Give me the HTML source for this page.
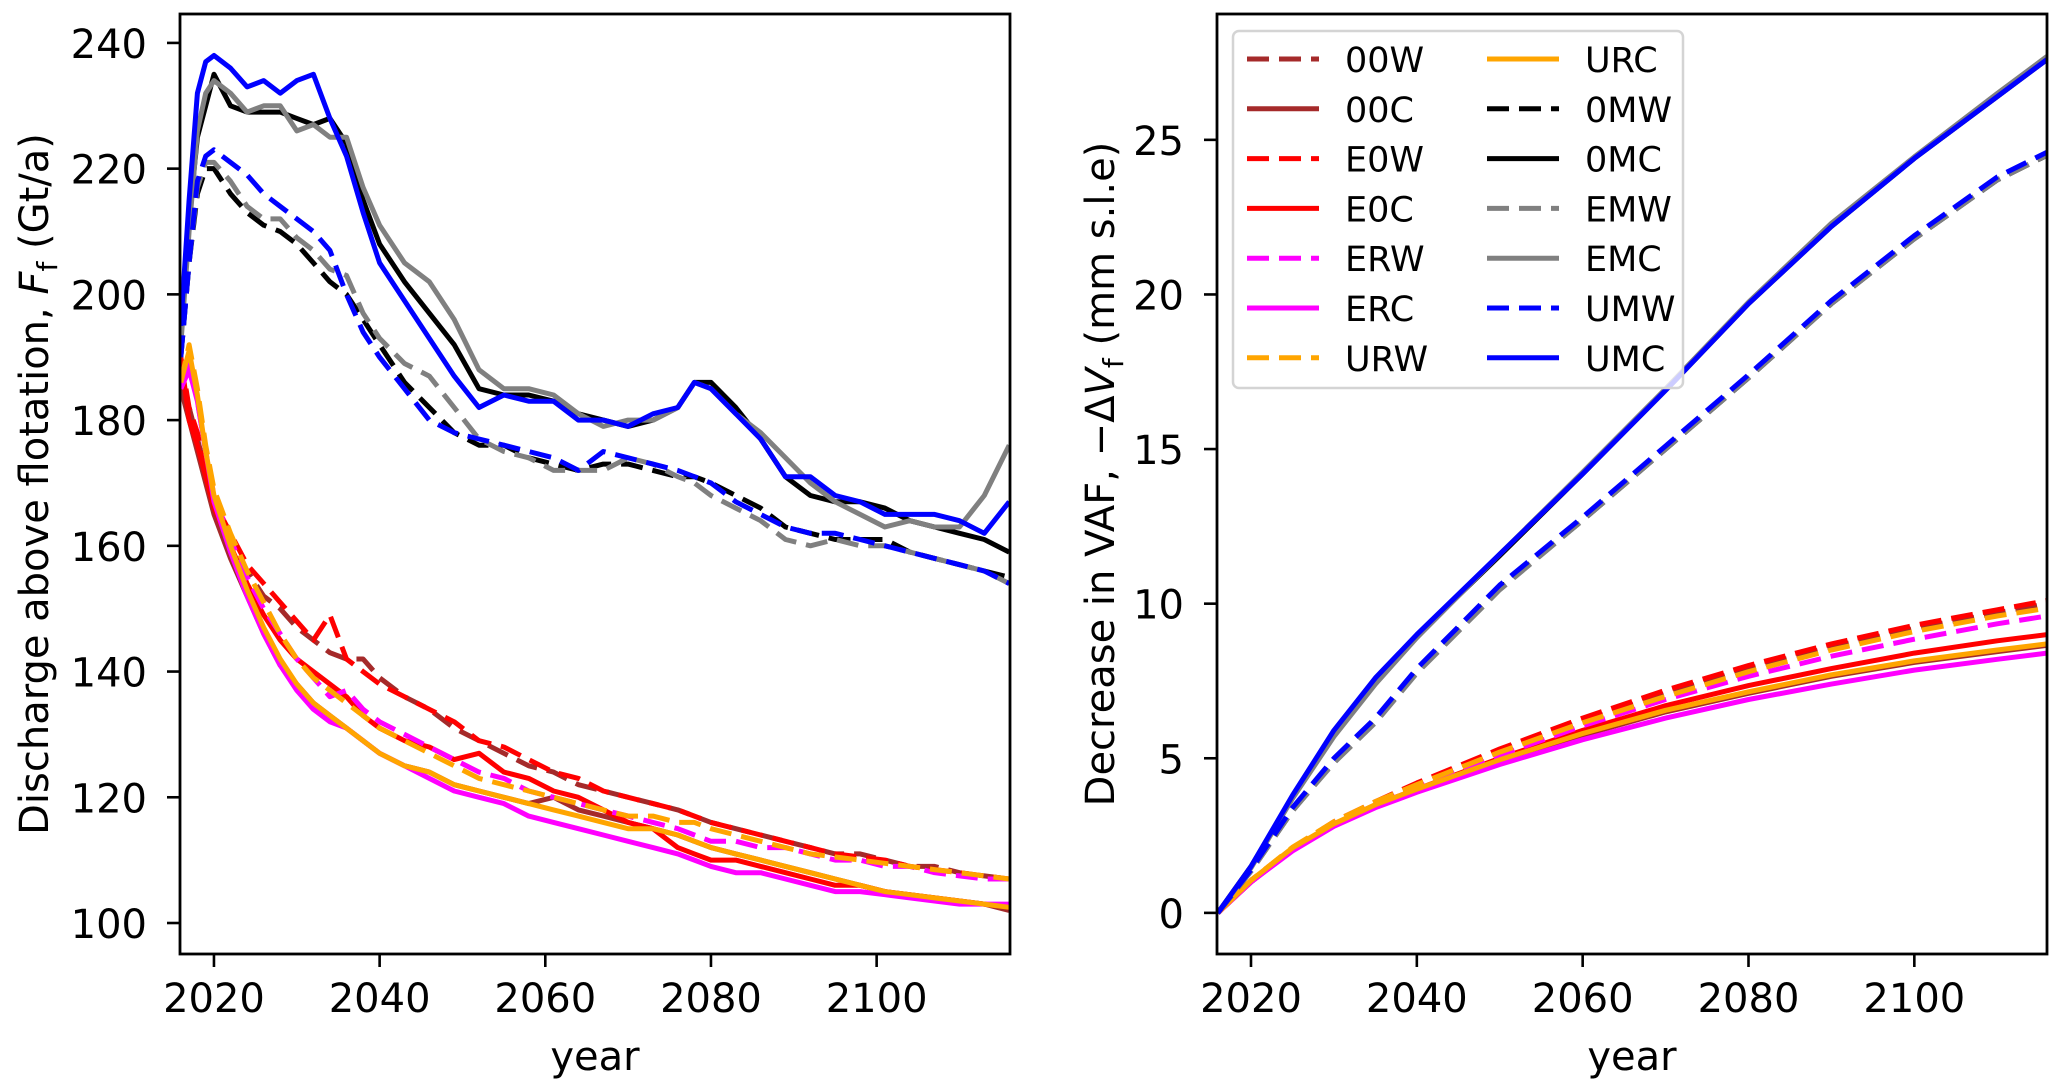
<!DOCTYPE html>
<html><head><meta charset="utf-8"><style>
html,body{margin:0;padding:0;background:#fff;}
svg{display:block;font-family:"DejaVu Sans","Liberation Sans",sans-serif;}
</style></head><body>
<svg id="fig" width="2067" height="1088" viewBox="0 0 2067 1088"></svg>
<script>
// ---------- data ----------
const leftYears=[2016,2017,2018,2019,2020,2022,2024,2026,2028,2030,2032,2034,2036,2038,2040,2043,2046,2049,2052,2055,2058,2061,2064,2067,2070,2073,2076,2078,2080,2083,2086,2089,2092,2095,2098,2101,2104,2107,2110,2113,2116];
const dis00W=[187,182,177,172,167,161,156,152,150,147,145,143,142,142,139,136,134,131,129,127,125,124,122,121,120,119,118,117,116,115,114,113,112,111,111,110,109,109,108,107.5,107];
const dis00C=[185,180,175,170,165,158,152,146,141,138,135,133,131,129,127,125,124,122,121,120,119,120,118,117,116,115,114,113,112,111,110,109,108,107,106,105,104.5,104,103.5,103,102];
const disE0W=[190,182,178,172,167,162,157,154,151,148,145,149,142,140,138,136,134,132,129,128,126,124,123,121,120,119,118,117,116,115,114,113,112,111,110.5,110,109,108.5,108,107.5,107];
const disE0C=[190,180,176,171,166,160,154,149,145,142,140,138,136,133,131,129,128,126,127,124,123,121,120,118,116,115,112,111,110,110,109,108,107,106,106,105,104.5,104,103.5,103,102.5];
const disERW=[186,189,183,175,168,161,155,150,146,142,139,136,137,134,132,130,128,126,124,123,121,120,119,118,117,116,115,114,113,113,112,112,111,110,110,109,109,108,107.5,107,107];
const disERC=[185,188,183,175,167,159,152,146,141,137,134,132,131,129,127,125,123,121,120,119,117,116,115,114,113,112,111,110,109,108,108,107,106,105,105,104.5,104,103.5,103,103,103];
const disURW=[186,192,185,176,169,162,156,151,146,142,139,137,135,133,131,129,127,125,123,122,121,120,119,118,117,117,116,116,115,114,113,112,111,110.5,110,109.5,109,108.5,108,107.5,107];
const disURC=[186,191,184,175,168,160,153,147,142,138,135,133,131,129,127,125,124,122,121,120,119,118,117,116,115,115,114,113,112,111,110,109,108,107,106,105,104.5,104,103.5,103,102.5];
const dis0MW=[190,205,216,220,220,216,213,211,210,208,205,202,200,196,192,186,182,178,176,176,174,173,172,173,173,172,171,171,170,168,166,163,162,161,161,161,159,158,157,156,155];
const dis0MC=[195,212,225,230,235,230,229,229,229,228,227,228,224,215,208,202,197,192,185,184,184,183,181,180,179,180,182,186,186,182,177,171,168,167,167,166,164,163,162,161,159];
const disEMW=[190,205,217,221,221,218,214,212,212,209,207,204,203,197,193,189,187,182,177,175,174,172,172,172,174,173,171,170,168,166,164,161,160,161,160,160,159,158,157,156,154];
const disEMC=[192,210,226,232,234,232,229,230,230,226,227,225,225,217,211,205,202,196,188,185,185,184,181,179,180,180,182,186,185,181,178,174,170,167,165,163,164,163,163,168,176];
const disUMW=[190,205,218,222,223,221,219,216,214,212,210,207,200,194,190,185,180,178,177,176,175,174,172,175,174,173,172,171,170,167,165,163,162,162,161,160,159,158,157,156,154];
const disUMC=[195,215,232,237,238,236,233,234,232,234,235,228,222,213,205,199,193,187,182,184,183,183,180,180,179,181,182,186,185,181,177,171,171,168,167,165,165,165,164,162,167];

const rightYears=[2016,2020,2025,2030,2035,2040,2050,2060,2070,2080,2090,2100,2110,2116];
const vaf00W=[0,1.05,2.1,2.92,3.58,4.15,5.25,6.2,7.1,7.9,8.6,9.2,9.7,10.0];
const vaf00C=[0,1.0,2.05,2.82,3.45,3.95,4.9,5.75,6.5,7.1,7.65,8.1,8.45,8.65];
const vafE0W=[0,1.05,2.1,2.95,3.6,4.2,5.3,6.3,7.2,8.0,8.7,9.3,9.8,10.1];
const vafE0C=[0,1.0,2.05,2.85,3.5,4.0,5.0,5.9,6.7,7.35,7.9,8.4,8.8,9.0];
const vafERW=[0,1.02,2.05,2.9,3.5,4.05,5.1,6.05,6.9,7.65,8.3,8.85,9.35,9.6];
const vafERC=[0,1.0,2.0,2.8,3.4,3.9,4.8,5.6,6.3,6.9,7.4,7.85,8.2,8.4];
const vafURW=[0,1.05,2.12,2.95,3.6,4.15,5.2,6.15,7.0,7.8,8.5,9.1,9.6,9.85];
const vafURC=[0,1.05,2.1,2.88,3.5,4.0,4.95,5.8,6.55,7.15,7.7,8.15,8.5,8.7];
const vaf0MW=[0,1.35,3.3,4.9,6.2,7.8,10.5,12.7,15.0,17.3,19.7,21.8,23.7,24.5];
const vaf0MC=[0,1.5,3.75,5.85,7.5,8.95,11.55,14.2,16.9,19.7,22.2,24.4,26.4,27.6];
const vafEMW=[0,1.35,3.3,4.85,6.15,7.75,10.45,12.7,15.0,17.3,19.7,21.8,23.7,24.5];
const vafEMC=[0,1.45,3.7,5.7,7.4,8.9,11.6,14.25,16.95,19.75,22.3,24.45,26.5,27.7];
const vafUMW=[0,1.4,3.4,5.0,6.3,7.9,10.6,12.8,15.1,17.4,19.8,21.9,23.8,24.6];
const vafUMC=[0,1.5,3.8,5.9,7.6,9.0,11.6,14.2,16.9,19.7,22.2,24.4,26.4,27.6];

const seriesNames=['00W','00C','E0W','E0C','ERW','ERC','URW','URC','0MW','0MC','EMW','EMC','UMW','UMC'];
const leftData=[dis00W,dis00C,disE0W,disE0C,disERW,disERC,disURW,disURC,dis0MW,dis0MC,disEMW,disEMC,disUMW,disUMC];
const rightData=[vaf00W,vaf00C,vafE0W,vafE0C,vafERW,vafERC,vafURW,vafURC,vaf0MW,vaf0MC,vafEMW,vafEMC,vafUMW,vafUMC];
const xTicks=[2020,2040,2060,2080,2100];
const leftYTicks=[100,120,140,160,180,200,220,240];
const rightYTicks=[0,5,10,15,20,25];

// ---------- styles ----------
const colors=['#a52a2a','#a52a2a','#ff0000','#ff0000','#ff00ff','#ff00ff','#ffa500','#ffa500','#000000','#000000','#808080','#808080','#0000ff','#0000ff'];
const NS='http://www.w3.org/2000/svg';
const svg=document.getElementById('fig');
function mk(tag,attrs,parent){const e=document.createElementNS(NS,tag);for(const k in attrs)e.setAttribute(k,attrs[k]);(parent||svg).appendChild(e);return e;}

function panel(cfg){
  const g=mk('g',{});
  
  
  const sx=v=>cfg.L+(v-cfg.x0)/(cfg.x1-cfg.x0)*(cfg.R-cfg.L);
  const sy=v=>cfg.B-(v-cfg.y0)/(cfg.y1-cfg.y0)*(cfg.B-cfg.T);
  const clipId=cfg.name+'-clip';
  const cp=mk('clipPath',{id:clipId},g);
  mk('rect',{x:cfg.L,y:cfg.T,width:cfg.R-cfg.L,height:cfg.B-cfg.T},cp);
  const lines=mk('g',{'clip-path':'url(#'+clipId+')'},g);
  cfg.data.forEach((arr,i)=>{
    const pts=arr.map((v,j)=>sx(cfg.years[j]).toFixed(1)+','+sy(v).toFixed(1)).join(' ');
    const pl=mk('polyline',{points:pts,fill:'none',stroke:colors[i],'stroke-width':5,'stroke-linejoin':'round'},lines);
    if(i%2===0)pl.setAttribute('stroke-dasharray','22,10');
    
    
  });
  mk('rect',{x:cfg.L,y:cfg.T,width:cfg.R-cfg.L,height:cfg.B-cfg.T,fill:'none',stroke:'#000','stroke-width':2.8},g);
  xTicks.forEach(t=>{
    const x=sx(t);
    mk('line',{x1:x,x2:x,y1:cfg.B,y2:cfg.B+13,stroke:'#000','stroke-width':2.6},g);
    const tx=mk('text',{x:x,y:1012,'text-anchor':'middle','font-size':40},g);
    tx.textContent=t;
    
    
  });
  cfg.yticks.forEach(t=>{
    const y=sy(t);
    mk('line',{x1:cfg.L-13,x2:cfg.L,y1:y,y2:y,stroke:'#000','stroke-width':2.6},g);
    const tx=mk('text',{x:cfg.L-33,y:y+15,'text-anchor':'end','font-size':40},g);
    tx.textContent=t;
    
    
  });
  const xl=mk('text',{x:(cfg.L+cfg.R)/2,y:1070,'text-anchor':'middle','font-size':40},g);
  xl.textContent='year';
  
  
  return {g,sx,sy};
}

panel({name:'discharge-panel',L:180,R:1010,T:14,B:954,x0:2015.9,x1:2116.1,y0:95.07,y1:244.6,years:leftYears,data:leftData,yticks:leftYTicks});
panel({name:'vaf-panel',L:1217,R:2047,T:14,B:954,x0:2015.9,x1:2116,y0:-1.33,y1:29.07,years:rightYears,data:rightData,yticks:rightYTicks});

// y labels
const yl1=mk('text',{transform:'translate(48,484) rotate(-90)','text-anchor':'middle','font-size':40});
yl1.innerHTML='Discharge above flotation, <tspan font-style="italic">F</tspan><tspan font-size="28" dy="9">f</tspan><tspan dy="-9"> (Gt/a)</tspan>';


const yl2=mk('text',{transform:'translate(1114,474) rotate(-90)','text-anchor':'middle','font-size':40});
yl2.innerHTML='Decrease in VAF, −Δ<tspan font-style="italic">V</tspan><tspan font-size="28" dy="9">f</tspan><tspan dy="-9"> (mm s.l.e)</tspan>';



// legend
const lg=mk('g',{});


mk('rect',{x:1233,y:31,width:450,height:357,rx:6,fill:'#fff','fill-opacity':0.8,stroke:'#d4d4d4','stroke-width':2.5},lg);
seriesNames.forEach((n,i)=>{
  const col=i<7?0:1, row=i%7;
  const y=59+row*49.8;
  const x0=col===0?1247:1487;
  const e=mk('g',{},lg);
  
  
  const ln=mk('line',{x1:x0,x2:x0+72,y1:y,y2:y,stroke:colors[i],'stroke-width':5},e);
  if(i%2===0)ln.setAttribute('stroke-dasharray','22,10');
  const t=mk('text',{x:col===0?1345:1585,y:y+13,'font-size':35},e);
  t.textContent=n;
});
</script>
</body></html>
